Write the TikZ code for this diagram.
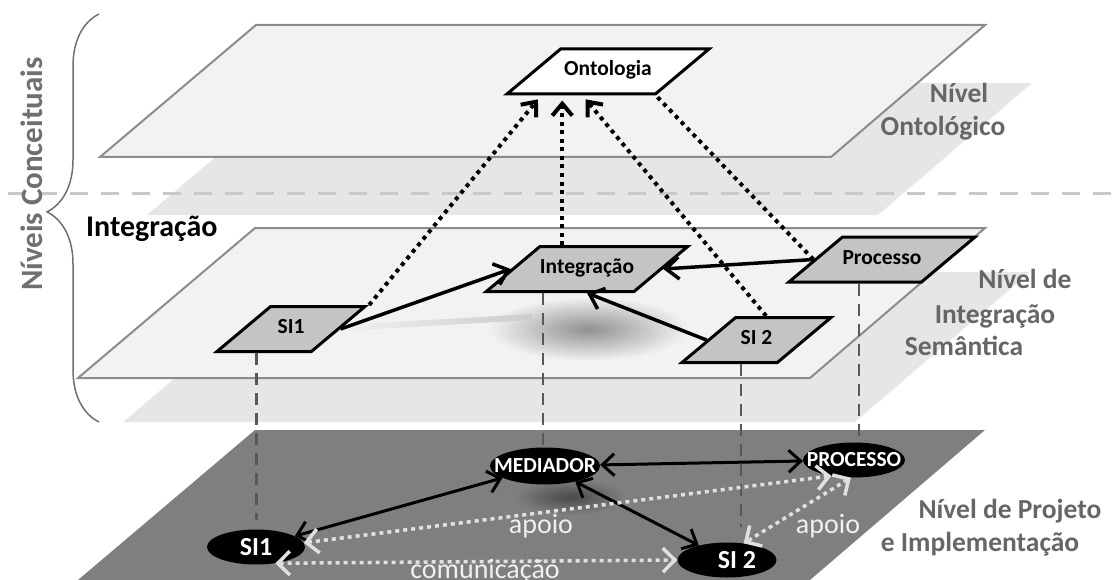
\documentclass[tikz,border=0pt]{standalone}
\usepackage{fontspec}
\setmainfont{Carlito}
\usetikzlibrary{shapes.geometric}
\usetikzlibrary{arrows.meta}
\usetikzlibrary{decorations.pathreplacing}
\usetikzlibrary{calc}

\definecolor{planefill}{HTML}{F2F2F2}
\definecolor{planeline}{HTML}{8C8C8C}
\definecolor{shadowgray}{HTML}{E6E6E6}
\definecolor{nodegray}{HTML}{C4C4C4}
\definecolor{basegray}{HTML}{7F7F7F}
\definecolor{labelgray}{HTML}{666666}
\definecolor{bracegray}{HTML}{707070}
\definecolor{dashgray}{HTML}{C8C8C8}
\definecolor{dropgray}{HTML}{585858}
\definecolor{dotwhite}{HTML}{E0E0E0}
\definecolor{blobgray}{HTML}{909090}
\definecolor{darkblob}{HTML}{4A4A4A}

\newcommand{\tightlabel}[1]{\makebox[0pt]{#1}}

\begin{document}
\begin{tikzpicture}[x=1pt, y=-1pt,
    plane/.style={fill=planefill, draw=planeline, line width=2pt},
    para/.style={trapezium, trapezium left angle=40, trapezium right angle=140,
      trapezium stretches body, draw=black, line width=3pt,
      inner xsep=0pt, inner ysep=13pt, text height=14pt, text depth=5pt,
      font=\bfseries\fontsize{21.5}{24}\selectfont},
    sysnode/.style={ellipse, fill=black, text=white, inner sep=0pt,
      font=\bfseries\fontsize{21.5}{24}\selectfont},
    levellabel/.style={text=labelgray, anchor=base, inner sep=0pt,
      font=\bfseries\fontsize{27.5}{32}\selectfont},
    supportlabel/.style={text=white!94!black, anchor=base, inner sep=0pt,
      font=\fontsize{28}{32}\selectfont},
    link/.style={line width=3.5pt, -{Straight Barb[length=13pt,width=22pt]}},
    duallink/.style={line width=3pt,
      {Straight Barb[length=12pt,width=22pt]}-{Straight Barb[length=12pt,width=22pt]}},
    maplink/.style={line width=4pt, dash pattern=on 4pt off 4.5pt},
    support/.style={draw=dotwhite, line width=3.5pt, dash pattern=on 4pt off 4pt,
      {Straight Barb[length=12pt,width=24pt]}-{Straight Barb[length=12pt,width=24pt]}},
    drop/.style={draw=dropgray, line width=2.5pt, dash pattern=on 12pt off 8pt},
  ]
    \useasboundingbox (0,0) rectangle (1115,580);

    % planes and their shadows
    \fill[shadowgray] (303,83) -- (1032,83) -- (878,215) -- (147,215) -- cycle;
    \fill[shadowgray] (300,272) -- (1030,272) -- (855,422) -- (123,422) -- cycle;
    \draw[draw=dashgray, line width=3pt, dash pattern=on 18pt off 13pt] (8,193) -- (1115,193);
    \draw[plane] (256,25) -- (985,25) -- (831,157) -- (100,157) -- cycle;
    \draw[plane] (255,228) -- (985,228) -- (810,378) -- (78,378) -- cycle;
    \fill[basegray] (255,430) -- (985,430) -- (810,580) -- (78,580) -- cycle;

    \shade[inner color=blobgray, outer color=planefill] (588,329) ellipse (100 and 32);
    \shade[left color=planefill, right color=gray!40] (340,325) -- (532,314) -- (532,320) -- (340,331) -- cycle;
    \shade[inner color=darkblob, outer color=basegray] (570,497) ellipse (56 and 18);

    \draw[draw=bracegray, line width=1.5pt, decorate,
      decoration={brace, amplitude=52pt, aspect=0.515}] (99,422) -- (99,14);
    \node[rotate=90, anchor=base, inner sep=0pt, text=bracegray,
      font=\bfseries\fontsize{31}{34}\selectfont] (levels) at (42,174) {Níveis Conceituais};
    \node[anchor=base west, inner sep=0pt, font=\bfseries\fontsize{30}{34}\selectfont]
      (intlabel) at (86,236) {Integração};

    \node[para, fill=white, minimum width=202pt] (onto) at (608,71.5) {Ontologia};
    \node[para, fill=nodegray, minimum width=184pt] (integ) at (587,269) {Integração};
    \node[para, fill=nodegray, minimum width=148pt] (proc) at (882,259.5) {Processo};
    \node[para, fill=nodegray, minimum width=148pt] (si1) at (291,329) {SI1};
    \node[para, fill=nodegray, minimum width=149pt] (si2) at (756.5,340) {SI 2};

    \node[sysnode, minimum width=98pt, minimum height=35pt,
      font=\bfseries\fontsize{26}{28}\selectfont] (si1b) at (256,547) {\tightlabel{SI1}};
    \node[sysnode, minimum width=110pt, minimum height=37pt] (medb) at (545,466) {\tightlabel{MEDIADOR}};
    \node[sysnode, minimum width=102pt, minimum height=35pt] (procb) at (854,460) {\tightlabel{PROCESSO}};
    \node[sysnode, minimum width=99pt, minimum height=35pt,
      font=\bfseries\fontsize{26}{28}\selectfont] (si2b) at (727,560) {\tightlabel{\hspace*{20pt}SI 2}};

    \draw[drop, shorten >=9pt] ($(si1.bottom left corner)!0.44!(si1.bottom right corner)$) coordinate (d1) -- (d1 |- si1b.north);
    \draw[drop] ($(integ.bottom left corner)!0.40!(integ.bottom right corner)$) coordinate (d2) -- (d2 |- medb.north);
    \draw[drop, shorten >=15pt] ($(si2.bottom left corner)!0.63!(si2.bottom right corner)$) coordinate (d3) -- (d3 |- si2b.north);
    \draw[drop, shorten >=4pt] ($(proc.bottom left corner)!0.54!(proc.bottom right corner)$) coordinate (d4) -- (d4 |- procb.north);

    \draw[link] (si1.right side) -- (integ.left side);
    \draw[link] (proc.left side) -- (integ.right side);
    \draw[link] (si2.left side) -- (integ.south);

    \draw[maplink, -{Straight Barb[length=12pt,width=20pt]}, shorten >=5pt]
      (si1.top right corner) -- ($(onto.bottom left corner)!0.25!(onto.bottom right corner)$);
    \draw[maplink, -{Straight Barb[length=12pt,width=20pt]}, shorten >=5pt]
      ($(integ.top left corner)!0.15!(integ.top right corner)$) coordinate (u2) -- (u2 |- onto.south);
    \draw[maplink, -{Straight Barb[length=12pt,width=20pt]}, shorten >=5pt]
      ($(si2.top left corner)!0.31!(si2.top right corner)$) -- ($(onto.bottom left corner)!0.52!(onto.bottom right corner)$);
    \draw[maplink] (proc.left side) -- (onto.bottom right corner);

    \draw[duallink] (si1b) -- (medb);
    \draw[duallink] (medb) -- (procb);
    \draw[duallink] (medb) -- (si2b);
    \draw[support] (si1b.5) -- (procb.215);
    \draw[support] (si1b.-40) -- (si2b.180);
    \draw[support] (procb.-100) -- (si2b.45);

    \node[supportlabel] (apoioa) at (541,533) {apoio};
    \node[supportlabel] (apoiob) at (828,533) {apoio};
    \node[supportlabel] (comm) at (485,578) {comunicação};

    \node[levellabel] (ont1) at (959,103) {Nível};
    \node[levellabel] (ont2) at (943,136) {Ontológico};
    \node[levellabel] (int1) at (1025,288) {Nível de};
    \node[levellabel] (int2) at (995,323) {Integração};
    \node[levellabel] (int3) at (964,355) {Semântica};
    \node[levellabel] (imp1) at (1010,518) {Nível de Projeto};
    \node[levellabel] (imp2) at (980,551) {e Implementação};
\end{tikzpicture}
\end{document}
